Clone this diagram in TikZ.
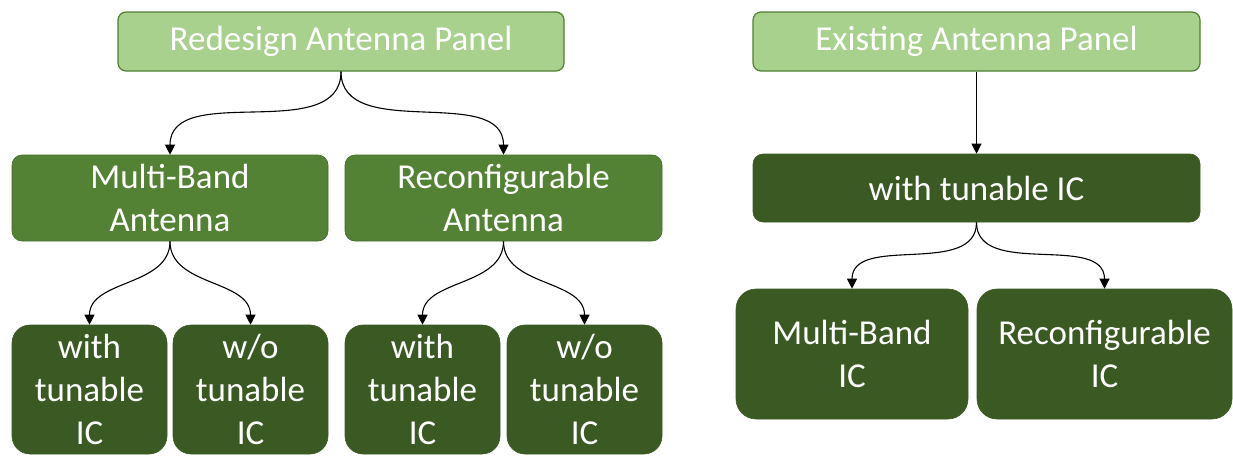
\documentclass[tikz,border=0pt]{standalone}
\usepackage{fontspec}
\setmainfont{Carlito}
\usetikzlibrary{arrows.meta}
\definecolor{lightg}{HTML}{A9D18E}
\definecolor{lightgb}{HTML}{507E32}
\definecolor{midg}{HTML}{548235}
\definecolor{midgb}{HTML}{41692A}
\definecolor{darkg}{HTML}{3B5A23}
\tikzset{
  box/.style={draw, line width=1.2pt, text=white, align=center, inner sep=0pt,
    font=\fontsize{35}{43}\selectfont},
  topbox/.style={box, fill=lightg, draw=lightgb, rounded corners=8pt},
  midbox/.style={box, fill=midg, draw=midgb, line width=0.6pt, rounded corners=10pt},
  darkbox/.style={box, fill=darkg, draw=darkg, line width=0.6pt, rounded corners=18pt},
  link/.style={draw=black, line width=1.1pt, -{Triangle[width=10pt,length=10pt]}},
}
\begin{document}
\begin{tikzpicture}[x=1pt,y=-1pt]
\useasboundingbox (0,0) rectangle (1233,455);
\node[topbox, minimum width=446pt, minimum height=59pt] (top1) at (341,41.5) {Redesign Antenna Panel};
\node[topbox, minimum width=447pt, minimum height=59pt] (top2) at (976.5,41.5) {Existing Antenna Panel};
\node[midbox, minimum width=316pt, minimum height=86pt] (mb) at (170,198) {Multi-Band\\Antenna};
\node[midbox, minimum width=317pt, minimum height=86pt] (rc) at (503.5,198) {Reconfigurable\\Antenna};
\node[darkbox, minimum width=155pt, minimum height=129pt] (b1) at (89.5,389.5) {with\\tunable\\IC};
\node[darkbox, minimum width=155pt, minimum height=129pt] (b2) at (250.5,389.5) {w/o\\tunable\\IC};
\node[darkbox, minimum width=155pt, minimum height=129pt] (b3) at (422.5,389.5) {with\\tunable\\IC};
\node[darkbox, minimum width=155pt, minimum height=129pt] (b4) at (584.5,389.5) {w/o\\tunable\\IC};
\node[darkbox, rounded corners=10pt, minimum width=447pt, minimum height=68pt] (wt) at (976.5,188) {with tunable IC};
\node[darkbox, rounded corners=20pt, minimum width=232pt, minimum height=130pt] (mbic) at (852,354) {Multi-Band\\IC};
\node[darkbox, rounded corners=20pt, minimum width=255pt, minimum height=130pt] (rcic) at (1104.5,354) {Reconfigurable\\IC};
\draw[link] (top1.south) to[out=-90,in=90] (mb.north);
\draw[link] (top1.south) to[out=-90,in=90] (rc.north);
\draw[link] (mb.south) to[out=-90,in=90] (b1.north);
\draw[link] (mb.south) to[out=-90,in=90] (b2.north);
\draw[link] (rc.south) to[out=-90,in=90] (b3.north);
\draw[link] (rc.south) to[out=-90,in=90] (b4.north);
\draw[link] (top2.south) -- (wt.north);
\draw[link] (wt.south) to[out=-90,in=90] (mbic.north);
\draw[link] (wt.south) to[out=-90,in=90] (rcic.north);
\end{tikzpicture}
\end{document}
